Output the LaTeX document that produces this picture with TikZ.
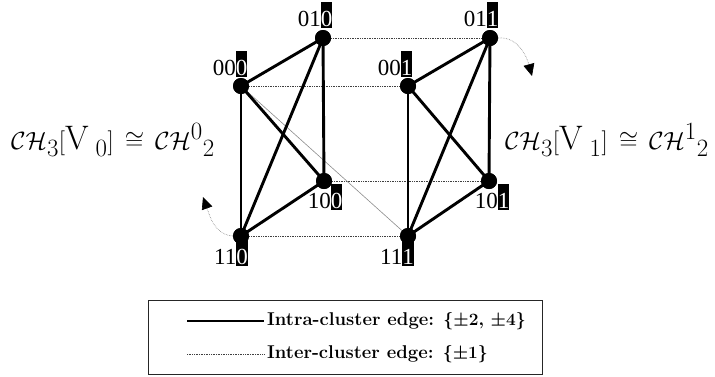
\documentclass[tikz,border=0pt]{standalone}
\usepackage{fontspec}
\usepackage{amssymb}
\newfontfamily\lab{Liberation Serif}
\usetikzlibrary{arrows.meta}
\newcommand\hl[1]{\rlap{\color{black}\rule[-0.08em]{0.5em}{1.12em}}\textcolor{white}{#1}}
\tikzset{
  vtx/.style={circle,fill=black,inner sep=0pt,minimum size=16pt},
  intra/.style={line width=2.9pt,black},
  inter/.style={densely dotted,line width=0.7pt,black!75},
  cross/.style={line width=0.6pt,black!45},
  curv/.style={line width=0.6pt,black!50,densely dotted,-{Triangle[length=12pt,width=11pt,fill=black,color=black]}},
  lbl/.style={font=\lab\fontsize{23}{24}\selectfont,inner sep=0pt,anchor=base},
  mlbl/.style={font=\fontsize{34}{35}\selectfont,inner sep=0pt,anchor=base west},
  legtext/.style={font=\bfseries\boldmath\fontsize{18.5}{20}\selectfont,inner sep=0pt,anchor=west}
}
\begin{document}
\begin{tikzpicture}[x=1pt,y=-1pt]
\useasboundingbox (0,0) rectangle (715,376);
% vertices
\node[vtx] (n000) at (241,86) {};
\node[vtx] (n010) at (323,38) {};
\node[vtx] (n100) at (324,181) {};
\node[vtx] (n110) at (241,236) {};
\node[vtx] (n001) at (408,86) {};
\node[vtx] (n011) at (490,38) {};
\node[vtx] (n101) at (489,181) {};
\node[vtx] (n111) at (408,236) {};
% inter-cluster edges
\draw[inter] (n010) -- (n011);
\draw[inter] (n000) -- (n001);
\draw[inter] (n100) -- (n101);
\draw[inter] (n110) -- (n111);
\draw[cross] (n000.center) -- (n111.center);
% intra-cluster edges
\foreach \a/\b in {000/010,000/110,000/100,010/100,010/110,100/110,
                   001/011,001/111,001/101,011/101,011/111,101/111}
  \draw[intra] (n\a.center) -- (n\b.center);
\foreach \n in {000,010,100,110,001,011,101,111}
  \fill (n\n) circle (8pt);
% curved arrows
\coordinate (a1) at (532,76);
\coordinate (a2) at (203,197);
\draw[curv] (n011.east) to[out=5,in=105] (a1);
\draw[curv] (n110.west) to[out=175,in=-70] (a2);
% labels
\node[lbl] (l000) at (230,75) {00\hl{0}};
\node[lbl] (l010) at (315,26) {01\hl{0}};
\node[lbl] (l011) at (481,26) {01\hl{1}};
\node[lbl] (l001) at (395,75) {00\hl{1}};
\node[lbl] (l100) at (325,208) {10\hl{0}};
\node[lbl] (l101) at (492,208) {10\hl{1}};
\node[lbl] (l110) at (231,264) {11\hl{0}};
\node[lbl] (l111) at (397,264) {11\hl{1}};
% math labels
\node[mlbl] (m0) at (11,149) {$\mathcal{CH}_3[\mathrm{V}_{\;0}]\,\cong\,\mathcal{CH}^{0}{}_{2}$};
\node[mlbl] (m1) at (505,149) {$\mathcal{CH}_3[\mathrm{V}_{\;1}]\,\cong\,\mathcal{CH}^{1}{}_{2}$};
% legend
\node[draw=black!85,line width=1pt,minimum width=394pt,minimum height=74pt,inner sep=0pt] (leg) at (345,337) {};
\coordinate (s1) at (187,321);
\coordinate (e1) at (264,321);
\coordinate (s2) at (187,354);
\coordinate (e2) at (264,354);
\draw[intra,line width=2.4pt] (s1) -- (e1);
\draw[inter] (s2) -- (e2);
\node[legtext] (t1) at (267,321) {Intra-cluster edge: $\{\pm2,\,\pm4\}$};
\node[legtext] (t2) at (267,354) {Inter-cluster edge: $\{\pm1\}$};
\end{tikzpicture}
\end{document}
